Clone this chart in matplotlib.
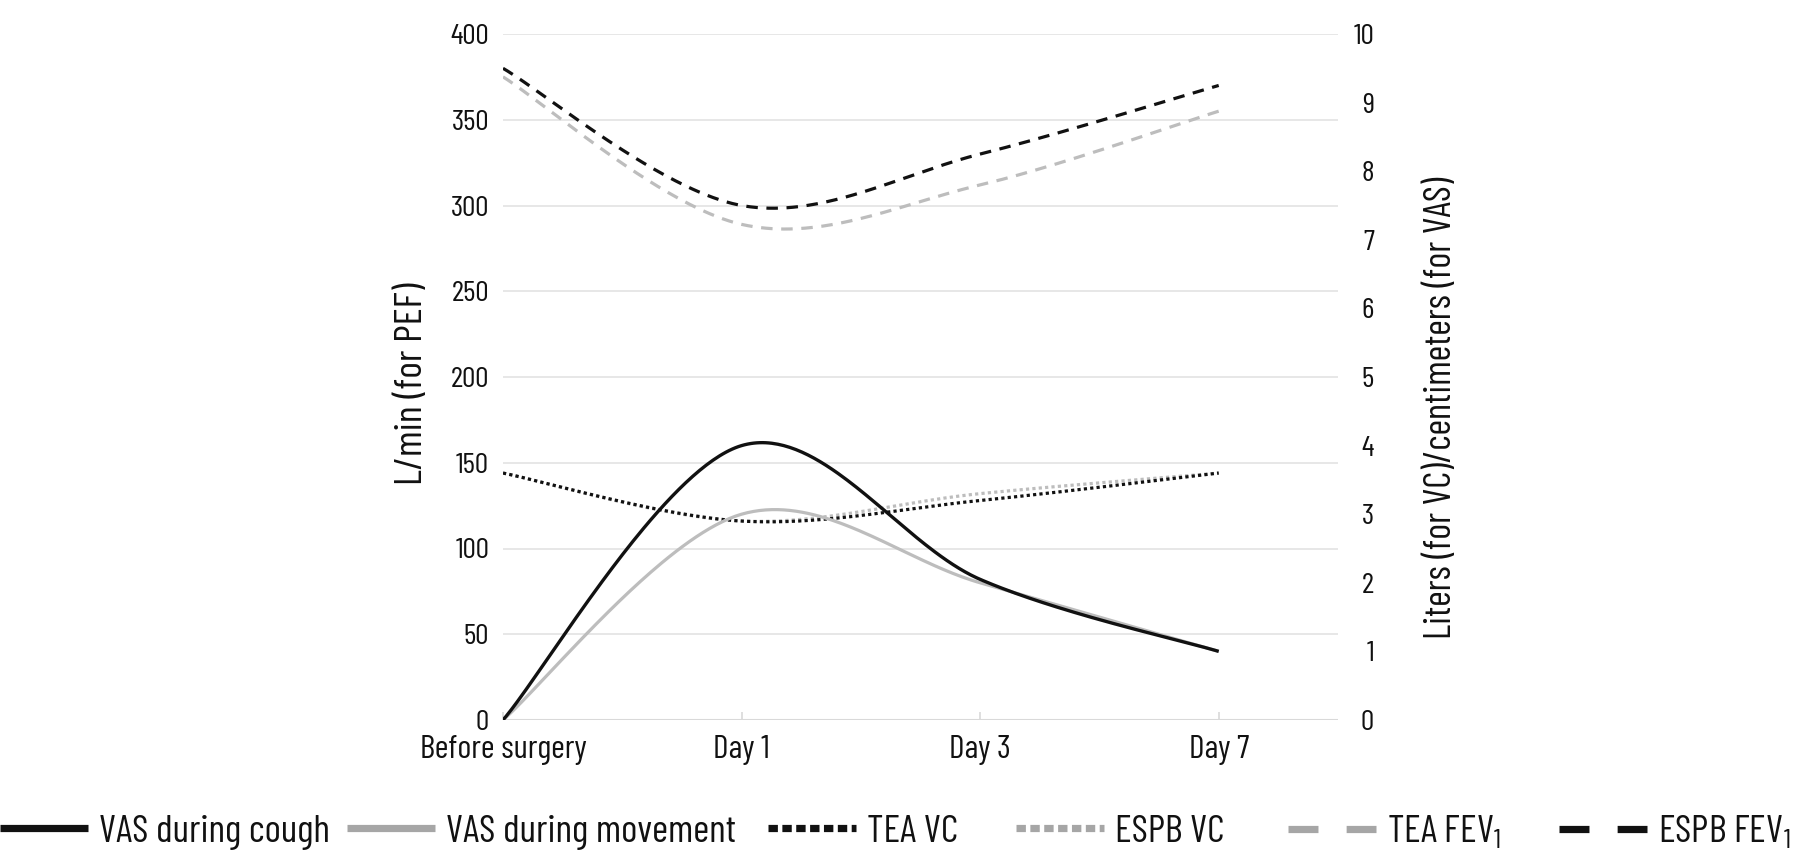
import numpy as np
import matplotlib
matplotlib.use("Agg")
import matplotlib.pyplot as plt
from matplotlib import font_manager
from matplotlib.lines import Line2D

# ---------------- data ----------------
categories = ["Before surgery", "Day 1", "Day 3", "Day 7"]
vas_cough = [0.0, 4.0, 2.05, 1.0]          # right axis (cm)
vas_movement = [0.0, 3.0, 2.0, 1.0]        # right axis (cm)
tea_vc = [3.6, 2.9, 3.2, 3.6]              # right axis (L)
espb_vc = [3.6, 2.9, 3.3, 3.6]             # right axis (L)
tea_fev1 = [375, 289, 312, 355]            # left axis
espb_fev1 = [380, 300, 330, 370]           # left axis
left_ticks = [0, 50, 100, 150, 200, 250, 300, 350, 400]
right_ticks = list(range(0, 11))
legend_labels = ["VAS during cough", "VAS during movement", "TEA VC", "ESPB VC",
                 "TEA FEV$_1$", "ESPB FEV$_1$"]

# ---------------- fonts ----------------
names = {f.name for f in font_manager.fontManager.ttflist}
for cand in ["Barlow Condensed", "Archivo Narrow", "Asap Condensed"]:
    if cand in names:
        FAM = [cand, "DejaVu Sans"]
        break
else:
    FAM = ["DejaVu Sans"]
plt.rcParams["font.family"] = FAM
plt.rcParams["mathtext.fontset"] = "custom"
plt.rcParams["mathtext.rm"] = FAM[0]
plt.rcParams["mathtext.it"] = FAM[0]
plt.rcParams["mathtext.default"] = "rm"

BLACK = "#111111"
GRAY = "#bdbdbd"
GRAY_LEG = "#a6a6a6"
TXT = "#111111"


def smooth(ys, n=80):
    """Excel-like smoothed line (Catmull-Rom Bezier) through the data points."""
    xs = np.arange(len(ys), dtype=float)
    P = np.column_stack([xs, np.asarray(ys, dtype=float)])
    out = []
    t = np.linspace(0, 1, n)[:, None]
    for i in range(len(P) - 1):
        p0 = P[i - 1] if i > 0 else P[i]
        p1, p2 = P[i], P[i + 1]
        p3 = P[i + 2] if i + 2 < len(P) else P[i + 1]
        c1 = p1 + (p2 - p0) / 6.0
        c2 = p2 - (p3 - p1) / 6.0
        seg = ((1 - t) ** 3) * p1 + 3 * ((1 - t) ** 2) * t * c1 + 3 * (1 - t) * t ** 2 * c2 + t ** 3 * p2
        out.append(seg if i == 0 else seg[1:])
    s = np.vstack(out)
    return s[:, 0], s[:, 1]


W, H = 1811, 851
fig = plt.figure(figsize=(W / 100, H / 100), dpi=100)
L, R, T, B = 503, 1338, 34, 720
ax = fig.add_axes([L / W, 1 - B / H, (R - L) / W, (B - T) / H])
ax2 = ax.twinx()

ax.set_xlim(0, 3.5)
ax.set_ylim(0, 400)
ax2.set_ylim(0, 10)

for a in (ax, ax2):
    for s in a.spines.values():
        s.set_visible(False)

ax.set_yticks(left_ticks)
ax.grid(axis="y", color="#e3e3e3", lw=1.2)
ax.set_axisbelow(True)
ax.axhline(0, color="#d9d9d9", lw=1.5, zorder=1)
ax.set_xticks(range(len(categories)))
ax.set_xticklabels(categories)
ax.tick_params(axis="x", direction="in", length=6, color="#d9d9d9", width=1.2,
               labelsize=24, pad=11, labelcolor=TXT)
ax.tick_params(axis="y", length=0, labelsize=21.5, pad=10, labelcolor=TXT)
ax2.set_yticks(right_ticks)
ax2.tick_params(axis="y", length=0, labelsize=21.5, pad=26, labelcolor=TXT)
for lab in ax2.get_yticklabels():
    lab.set_horizontalalignment("right")

ax.set_ylabel("L/min (for PEF)", fontsize=28.5, color=TXT)
ax.yaxis.set_label_coords(-0.088, 0.49)
ax2.set_ylabel("Liters (for VC)/centimeters (for VAS)", fontsize=27.3, color=TXT)
ax2.yaxis.set_label_coords(1.103, 0.455)

# ---------------- series ----------------
x, y = smooth(tea_fev1)
ax.plot(x, y, color=GRAY, lw=2.3, linestyle=(0, (3.6, 2.7)), dash_capstyle="butt", zorder=3)
x, y = smooth(espb_fev1)
ax.plot(x, y, color=BLACK, lw=2.3, linestyle=(0, (3.6, 2.7)), dash_capstyle="butt", zorder=4)

x, y = smooth(espb_vc)
ax2.plot(x, y, color=GRAY, lw=2.3, linestyle=(0, (1, 1)), dash_capstyle="butt", zorder=3)
x, y = smooth(tea_vc)
ax2.plot(x, y, color=BLACK, lw=2.3, linestyle=(0, (1, 1)), dash_capstyle="butt", zorder=4)
x, y = smooth(vas_movement)
ax2.plot(x, y, color=GRAY, lw=2.3, solid_capstyle="butt", zorder=5)
x, y = smooth(vas_cough)
ax2.plot(x, y, color=BLACK, lw=2.4, solid_capstyle="butt", zorder=6)

# ---------------- legend ----------------
LW = 5.2
handles = [
    Line2D([], [], color=BLACK, lw=LW, solid_capstyle="butt"),
    Line2D([], [], color=GRAY_LEG, lw=LW, solid_capstyle="butt"),
    Line2D([], [], color=BLACK, lw=LW, linestyle=(0, (1.3, 0.62)), dash_capstyle="butt"),
    Line2D([], [], color=GRAY_LEG, lw=LW, linestyle=(0, (1.3, 0.62)), dash_capstyle="butt"),
    Line2D([], [], color=GRAY_LEG, lw=LW, linestyle=(0, (4.15, 3.9)), dash_capstyle="butt"),
    Line2D([], [], color=BLACK, lw=LW, linestyle=(0, (4.15, 3.9)), dash_capstyle="butt"),
]
starts = [0, 347, 768, 1016, 1288, 1559]
FS = 28
for h, lab, xs in zip(handles, legend_labels, starts):
    fig.legend([h], [lab], loc="center left", bbox_to_anchor=(xs / W, 1 - 832 / H),
               frameon=False, fontsize=FS, handlelength=88 / (FS * 100 / 72),
               handletextpad=0.28, borderpad=0, borderaxespad=0, labelcolor=TXT)

fig.savefig("out.png", dpi=100, facecolor="white")
